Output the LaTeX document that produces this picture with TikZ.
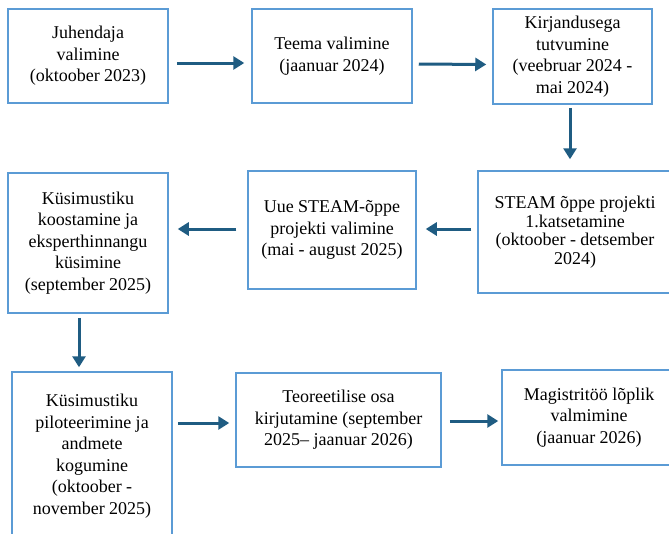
\documentclass[tikz,border=0pt]{standalone}
\usepackage{fontspec}
\setmainfont{Liberation Serif}
\usetikzlibrary{arrows.meta}
\definecolor{boxblue}{RGB}{91,155,213}
\definecolor{arrowblue}{RGB}{31,92,130}

\begin{document}
\begin{tikzpicture}[x=1pt,y=-1pt,
  box/.style={draw=boxblue,line width=1.5pt,align=center,inner sep=0pt,font=\fontsize{18}{21.5}\selectfont},
  flow/.style={draw=arrowblue,line width=3pt,-{Triangle[length=11pt,width=13pt]}}]
  \clip (0,0) rectangle (669,533);
  \path (88,56) node[box,minimum width=160pt,minimum height=94pt] (n1) {Juhendaja\\valimine\\(oktoober 2023)}
  (332,56) node[box,minimum width=160pt,minimum height=94pt] (n2) {Teema valimine\\(jaanuar 2024)}
  (572.5,56.5) node[box,minimum width=159pt,minimum height=95pt] (n3) {Kirjandusega\\tutvumine\\(veebruar 2024 -\\mai 2024)}
  (575,232) node[box,minimum width=194pt,minimum height=122pt,font=\fontsize{18}{18.5}\selectfont] (n4) {STEAM õppe projekti\\1.katsetamine\\(oktoober - detsember\\2024)}
  (332,230) node[box,minimum width=168pt,minimum height=118pt] (n5) {Uue STEAM-õppe\\projekti valimine\\(mai - august 2025)}
  (88,243) node[box,minimum width=160pt,minimum height=140pt] (n6) {Küsimustiku\\koostamine ja\\eksperthinnangu\\küsimine\\(september 2025)}
  (92,456) node[box,minimum width=160pt,minimum height=168pt] (n7) {Küsimustiku\\piloteerimine ja\\andmete\\kogumine\\(oktoober -\\november 2025)}
  (338.5,420) node[box,minimum width=205pt,minimum height=94pt] (n8) {Teoreetilise osa\\kirjutamine (september\\2025– jaanuar 2026)}
  (589,417.5) node[box,minimum width=174pt,minimum height=95pt] (n9) {Magistritöö lõplik\\valmimine\\(jaanuar 2026)};
  \draw[flow,shorten <=8pt,shorten >=7pt] ([yshift=-7pt]n1.east) -- ([yshift=-7pt]n2.west);
  \draw[flow,shorten <=6pt,shorten >=6pt] ([yshift=-8pt]n2.east) -- ([yshift=-8pt]n3.west);
  \draw[flow,shorten <=3pt,shorten >=11pt] ([xshift=-2.5pt]n3.south) -- ([xshift=-2.5pt]n3.south |- n4.north);
  \draw[flow,shorten <=6pt,shorten >=9pt] ([yshift=3pt]n4.west) -- ([yshift=3pt]n4.west -| n5.east);
  \draw[flow,shorten <=11pt,shorten >=9pt] ([yshift=1pt]n5.west) -- ([yshift=1pt]n5.west -| n6.east);
  \draw[flow,shorten <=4pt,shorten >=4pt] ([xshift=-9pt]n6.south) -- ([xshift=-9pt]n6.south |- n7.north);
  \draw[flow,shorten <=5pt,shorten >=6pt] ([yshift=-3pt]n8.west -| n7.east) -- ([yshift=-3pt]n8.west);
  \draw[flow,shorten <=8pt,shorten >=3pt] ([yshift=-1pt]n8.east) -- ([yshift=-1pt]n8.east -| n9.west);
\end{tikzpicture}
\end{document}
